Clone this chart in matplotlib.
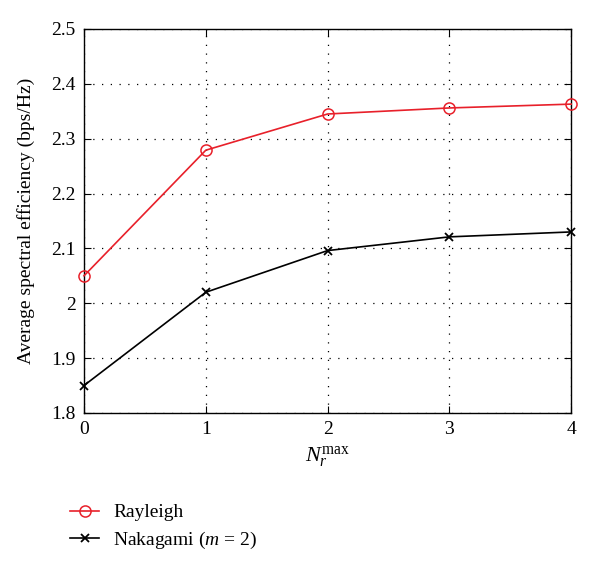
import matplotlib.pyplot as plt
import numpy as np

plt.rcParams['font.family'] = ['Liberation Serif', 'DejaVu Serif']
plt.rcParams['mathtext.fontset'] = 'custom'
plt.rcParams['mathtext.rm'] = 'Liberation Serif'
plt.rcParams['mathtext.it'] = 'Liberation Serif:italic'

nr_max = [0, 1, 2, 3, 4]
rayleigh = [2.05, 2.279, 2.345, 2.356, 2.363]
nakagami = [1.85, 2.02, 2.096, 2.121, 2.130]
xticks = [0, 1, 2, 3, 4]
yticks = [1.8, 1.9, 2.0, 2.1, 2.2, 2.3, 2.4, 2.5]
ytick_labels = ['1.8', '1.9', '2', '2.1', '2.2', '2.3', '2.4', '2.5']

fig = plt.figure(figsize=(6, 5.68), dpi=100)
ax = fig.add_axes([0.14, 0.273, 0.812, 0.676])

ax.plot(nr_max, rayleigh, color='#e8202a', lw=1.2, marker='o', ms=8,
        mfc='none', mec='#e8202a', mew=1.1, label='Rayleigh', clip_on=False, zorder=5)
ax.plot(nr_max, nakagami, color='black', lw=1.2, marker='x', ms=6,
        mew=1.3, label='Nakagami ($m$ = 2)', clip_on=False, zorder=5)

ax.set_xlim(0, 4)
ax.set_ylim(1.8, 2.5)
ax.set_xticks(xticks)
ax.set_yticks(yticks)
ax.set_yticklabels(ytick_labels)
ax.tick_params(direction='in', top=True, right=True, labelsize=14, length=5, pad=6)
ax.grid(True, color='black', linestyle=(0, (1, 6)), linewidth=0.9)
for s in ax.spines.values():
    s.set_linewidth(1.0)

ax.set_xlabel(r'$N_r^{\max}$', fontsize=16, labelpad=4)
ax.set_ylabel('Average spectral efficiency (bps/Hz)', fontsize=14, labelpad=12)

fig.legend(loc='upper left', bbox_to_anchor=(0.117, 0.113), frameon=False,
           fontsize=14, handlelength=1.5, handletextpad=0.7, labelspacing=0.45,
           borderaxespad=0, borderpad=0)

fig.savefig('out.png', dpi=100)
